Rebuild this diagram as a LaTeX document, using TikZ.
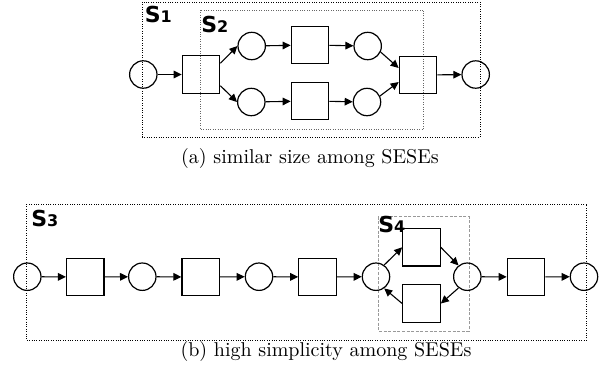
\documentclass[tikz,border=0pt]{standalone}
\usepackage{fontspec}
\usetikzlibrary{arrows.meta}
\newfontfamily\lblfont{DejaVu Sans}
\newcommand\seselabel[2]{{\lblfont\bfseries\fontsize{11}{13}\selectfont #1{\fontsize{8}{9}\selectfont #2}}}
\tikzset{
  place/.style={circle, draw, line width=0.6pt, minimum size=13.7pt, inner sep=0pt},
  trans/.style={rectangle, draw, line width=0.65pt, minimum size=18.7pt, inner sep=0pt},
  flow/.style={line width=0.55pt, -{Triangle[length=4pt,width=3.8pt]}},
  regionA/.style={dash pattern=on 0.5pt off 0.7pt, line width=0.5pt},
  regionB/.style={dash pattern=on 0.5pt off 0.7pt, line width=0.5pt, black!60},
  regionC/.style={dash pattern=on 1.5pt off 0.8pt, line width=0.5pt, black!40},
  slabel/.style={anchor=base west, inner sep=0pt},
  caption/.style={inner sep=0pt, font=\fontsize{10}{12}\selectfont}
}
\begin{document}
\begin{tikzpicture}[x=0.5pt, y=-0.5pt]
\useasboundingbox (0,0) rectangle (606,372);

% ---------- (a) ----------
\draw[regionA] (142.3,2) rectangle (480,137);
\draw[regionB] (200.3,10) rectangle (423.7,129.5);
\node[slabel] (s1) at (144.5,22.7) {\seselabel{S}{1}};
\node[slabel] (s2) at (201,32) {\seselabel{S}{2}};

\node[place] (a0) at (143.3,74.5) {};
\node[trans] (at0) at (201,74.5) {};
\node[place] (au1) at (251.7,46) {};
\node[place] (al1) at (251.3,102) {};
\node[trans] (atu) at (310,45) {};
\node[trans] (atl) at (310,101) {};
\node[place] (au2) at (367.7,46) {};
\node[place] (al2) at (367,102) {};
\node[trans] (atr) at (418,75) {};
\node[place] (ae) at (475.7,74.5) {};

\draw[flow] (a0) -- (at0);
\draw[flow] (at0.30) -- (au1.west);
\draw[flow] (at0.-30) -- (al1.west);
\draw[flow] (au1) -- (atu);
\draw[flow] (al1) -- (atl);
\draw[flow] (atu) -- (au2);
\draw[flow] (atl) -- (al2);
\draw[flow] (au2.-25) -- (atr.160);
\draw[flow] (al2.25) -- (atr.200);
\draw[flow] (atr) -- (ae);

\node[caption] (capa) at (310,158.5) {(a) similar size among SESEs};

% ---------- (b) ----------
\draw[regionA] (26,204) rectangle (586.7,340);
\draw[regionC] (378.3,216.7) rectangle (469,331);
\node[slabel] (s3) at (31,226) {\seselabel{S}{3}};
\node[slabel] (s4) at (378,232.7) {\seselabel{S}{4}};

\node[place] (b1) at (27.3,276.7) {};
\node[trans] (bt1) at (85.3,277) {};
\node[place] (b2) at (142.3,276.7) {};
\node[trans] (bt2) at (200.7,277) {};
\node[place] (b3) at (259,276.7) {};
\node[trans] (bt3) at (317.5,277) {};
\node[place] (b4) at (376,276.7) {};
\node[trans] (bu) at (421.5,247.3) {};
\node[trans] (bl) at (421.5,303.5) {};
\node[place] (b5) at (467.3,276.7) {};
\node[trans] (bt4) at (526,277) {};
\node[place] (b6) at (584,276.7) {};

\draw[flow] (b1) -- (bt1);
\draw[flow] (bt1) -- (b2);
\draw[flow] (b2) -- (bt2);
\draw[flow] (bt2) -- (b3);
\draw[flow] (b3) -- (bt3);
\draw[flow] (bt3) -- (b4);
\draw[flow] (b4.55) -- (bu.west);
\draw[flow] (bu.east) -- (b5.128);
\draw[flow] (b5.232) -- (bl.east);
\draw[flow] (bl.west) -- (b4.-55);
\draw[flow] (b5) -- (bt4);
\draw[flow] (bt4) -- (b6);

\node[caption] (capb) at (326,351) {(b) high simplicity among SESEs};
\end{tikzpicture}
\end{document}
